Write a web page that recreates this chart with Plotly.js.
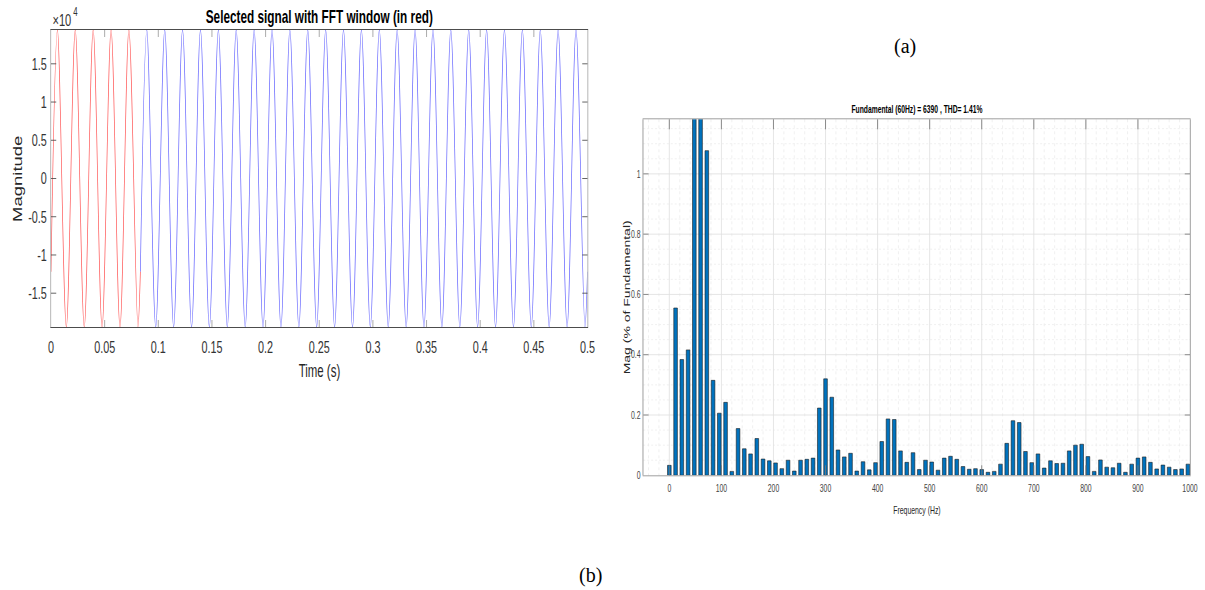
<!DOCTYPE html>
<html><head><meta charset="utf-8">
<script src="https://cdn.plot.ly/plotly-3.0.1.min.js"></script>
<style>
html,body{margin:0;padding:0;background:#fff;width:1205px;height:590px;overflow:hidden;}
#wrap{position:absolute;left:0;top:0;width:1840px;height:590px;transform:scaleX(0.654891);transform-origin:0 0;}
#over{position:absolute;left:0;top:0;width:1205px;height:590px;pointer-events:none;}
</style></head><body>
<div id="wrap"><div id="chart" style="width:1840px;height:590px;"></div></div>
<div id="over"></div>
<script>
// Time signal: extremes (peaks/troughs), 60 Hz, amplitude ~1.942e4
const redTime = [0, 0.0060, 0.0143, 0.0226, 0.0310, 0.0393, 0.0476, 0.0560, 0.0643, 0.0726, 0.0810, 0.0833];
const redValue = [-12200, 19420, -19420, 19420, -19420, 19420, -19420, 19420, -19420, 19420, -19420, -12200];

const blueTime = [0.0833, 0.0893, 0.0976, 0.1060, 0.1143, 0.1226, 0.1310, 0.1393, 0.1476, 0.1560, 0.1643,
  0.1726, 0.1810, 0.1893, 0.1976, 0.2060, 0.2143, 0.2226, 0.2310, 0.2393, 0.2476, 0.2560, 0.2643,
  0.2726, 0.2810, 0.2893, 0.2976, 0.3060, 0.3143, 0.3226, 0.3310, 0.3393, 0.3476, 0.3560, 0.3643,
  0.3726, 0.3810, 0.3893, 0.3976, 0.4060, 0.4143, 0.4226, 0.4310, 0.4393, 0.4476, 0.4560, 0.4643,
  0.4726, 0.4810, 0.4893, 0.4976, 0.5000];
const blueValue = [-12200, 19420, -19420, 19420, -19420, 19420, -19420, 19420, -19420, 19420, -19420,
  19420, -19420, 19420, -19420, 19420, -19420, 19420, -19420, 19420, -19420, 19420, -19420,
  19420, -19420, 19420, -19420, 19420, -19420, 19420, -19420, 19420, -19420, 19420, -19420,
  19420, -19420, 19420, -19420, 19420, -19420, 19420, -19420, 19420, -19420, 19420, -19420,
  19420, -19420, 19420, -19420, -12200];

const yTickVals = [-15000, -10000, -5000, 0, 5000, 10000, 15000];
const yTickText = ['-1.5', '-1', '-0.5', '0', '0.5', '1', '1.5'];

// FFT spectrum (12 Hz resolution), % of fundamental
const freq = [0, 12, 24, 36, 48, 60, 72, 84, 96, 108, 120, 132, 144, 156, 168, 180, 192, 204, 216, 228,
  240, 252, 264, 276, 288, 300, 312, 324, 336, 348, 360, 372, 384, 396, 408, 420, 432, 444, 456, 468,
  480, 492, 504, 516, 528, 540, 552, 564, 576, 588, 600, 612, 624, 636, 648, 660, 672, 684, 696, 708,
  720, 732, 744, 756, 768, 780, 792, 804, 816, 828, 840, 852, 864, 876, 888, 900, 912, 924, 936, 948,
  960, 972, 984, 996];
const mag = [0.033, 0.555, 0.384, 0.416, 1.6, 100, 1.077, 0.315, 0.206, 0.242, 0.013, 0.155, 0.088, 0.071, 0.122, 0.054, 0.048, 0.041, 0.022, 0.050,
  0.014, 0.050, 0.053, 0.057, 0.223, 0.320, 0.259, 0.084, 0.061, 0.073, 0.014, 0.045, 0.018, 0.042, 0.112, 0.187, 0.185, 0.081, 0.043, 0.075,
  0.019, 0.050, 0.044, 0.017, 0.057, 0.063, 0.053, 0.029, 0.020, 0.022, 0.019, 0.010, 0.013, 0.037, 0.106, 0.181, 0.175, 0.079, 0.042, 0.071,
  0.024, 0.048, 0.039, 0.040, 0.081, 0.100, 0.103, 0.062, 0.013, 0.051, 0.027, 0.025, 0.040, 0.010, 0.037, 0.057, 0.061, 0.043, 0.021, 0.034,
  0.027, 0.019, 0.021, 0.037];

const F = "'Liberation Sans', Arial, Helvetica, sans-serif";
const SERIF = "'Liberation Serif', 'Times New Roman', serif";

const traces = [
  {x: blueTime, y: blueValue, xaxis: 'x', yaxis: 'y', type: 'scatter', mode: 'lines',
   line: {color: 'rgb(105,105,255)', width: 1.1, shape: 'spline', smoothing: 1}, hoverinfo: 'skip'},
  {x: redTime, y: redValue, xaxis: 'x', yaxis: 'y', type: 'scatter', mode: 'lines',
   line: {color: 'rgb(255,90,90)', width: 1.1, shape: 'spline', smoothing: 1}, hoverinfo: 'skip'},
  {x: freq, y: mag, xaxis: 'x2', yaxis: 'y2', type: 'bar',
   marker: {color: '#0072BD', line: {color: '#1a1a1a', width: 0.7}}, hoverinfo: 'skip'}
];

const layout = {
  width: 1840, height: 590, autosize: false,
  margin: {l: 0, r: 0, t: 0, b: 0},
  paper_bgcolor: '#fff', plot_bgcolor: '#fff',
  showlegend: false, bargap: 0.42,
  font: {family: F, color: '#262626'},
  xaxis: {domain: [0.04232, 0.48755], range: [0, 0.5], tick0: 0, dtick: 0.05, anchor: 'y',
    ticks: 'inside', ticklen: 7, tickcolor: '#999', tickwidth: 1,
    showline: true, linecolor: '#262626', linewidth: 1, mirror: 'ticks',
    showgrid: false, zeroline: false, ticklabelstandoff: 5,
    tickfont: {family: F, size: 16.5, color: '#333'}},
  yaxis: {domain: [0.44576, 0.94915], range: [-19420, 19420], anchor: 'x',
    tickmode: 'array', tickvals: yTickVals, ticktext: yTickText,
    ticks: 'inside', ticklen: 8, tickcolor: '#444', tickwidth: 1,
    showline: true, linecolor: '#a8a8a8', linewidth: 1, mirror: 'ticks',
    showgrid: false, zeroline: false, ticklabelstandoff: 2,
    tickfont: {family: F, size: 16.5, color: '#333'}},
  xaxis2: {domain: [0.53386, 0.98755], range: [-50, 1000], tick0: 0, dtick: 100, anchor: 'y2',
    ticks: 'inside', ticklen: 10, tickcolor: '#777', tickwidth: 1,
    showline: true, linecolor: '#8a8a8a', linewidth: 1, mirror: 'ticks',
    showgrid: true, gridcolor: '#e0e0e0', gridwidth: 1, zeroline: false,
    minor: {dtick: 20, showgrid: true, gridcolor: '#ededed', griddash: 'dot', gridwidth: 1},
    ticklabelstandoff: 3,
    tickfont: {family: F, size: 10.5, color: '#444'}},
  yaxis2: {domain: [0.19441, 0.79780], range: [0, 1.181], tick0: 0, dtick: 0.2, anchor: 'x2',
    ticks: 'inside', ticklen: 8, tickcolor: '#777', tickwidth: 1,
    showline: true, linecolor: '#8a8a8a', linewidth: 1, mirror: 'ticks',
    showgrid: true, gridcolor: '#e0e0e0', gridwidth: 1, zeroline: false,
    minor: {dtick: 0.05, showgrid: true, gridcolor: '#ededed', griddash: 'dot', gridwidth: 1},
    ticklabelstandoff: 1,
    tickfont: {family: F, size: 10.5, color: '#444'}},
  annotations: [
    {text: 'Selected signal with FFT window (in red)', xref: 'paper', yref: 'paper',
     x: 0.2647, y: 0.97203, xanchor: 'center', yanchor: 'middle', showarrow: false,
     font: {family: F, size: 18, color: '#000', weight: 'bold'}},
    {text: '×10', xref: 'paper', yref: 'paper',
     x: 0.04232, y: 0.9661, xanchor: 'left', yanchor: 'middle', showarrow: false,
     font: {family: F, size: 17, color: '#333'}},
    {text: '4', xref: 'paper', yref: 'paper',
     x: 0.0598, y: 0.9800, xanchor: 'left', yanchor: 'middle', showarrow: false,
     font: {family: F, size: 12, color: '#333'}},
    {text: 'Magnitude', xref: 'paper', yref: 'paper', textangle: -90,
     x: 0.01494, y: 0.69746, xanchor: 'center', yanchor: 'middle', showarrow: false,
     font: {family: F, size: 18.5, color: '#262626'}},
    {text: 'Time (s)', xref: 'paper', yref: 'paper',
     x: 0.26515, y: 0.37034, xanchor: 'center', yanchor: 'middle', showarrow: false,
     font: {family: F, size: 17.5, color: '#262626'}},
    {text: 'Fundamental (60Hz) = 6390 , THD= 1.41%', xref: 'paper', yref: 'paper',
     x: 0.76100, y: 0.81356, xanchor: 'center', yanchor: 'middle', showarrow: false,
     font: {family: F, size: 10.3, color: '#000', weight: 'bold'}},
    {text: 'Frequency (Hz)', xref: 'paper', yref: 'paper',
     x: 0.76100, y: 0.13559, xanchor: 'center', yanchor: 'middle', showarrow: false,
     font: {family: F, size: 10.5, color: '#262626'}},
    {text: 'Mag (% of Fundamental)', xref: 'paper', yref: 'paper', textangle: -90,
     x: 0.51950, y: 0.49576, xanchor: 'center', yanchor: 'middle', showarrow: false,
     font: {family: F, size: 14, color: '#262626'}}
  ]
};

Plotly.newPlot('chart', traces, layout, {displayModeBar: false, staticPlot: true});

// Uncompressed overlay for the panel captions
const overLayout = {
  width: 1205, height: 590, autosize: false,
  margin: {l: 0, r: 0, t: 0, b: 0},
  paper_bgcolor: 'rgba(0,0,0,0)', plot_bgcolor: 'rgba(0,0,0,0)',
  xaxis: {visible: false}, yaxis: {visible: false},
  annotations: [
    {text: '(a)', xref: 'paper', yref: 'paper', x: 905 / 1205, y: 1 - 47 / 590,
     xanchor: 'center', yanchor: 'middle', showarrow: false,
     font: {family: SERIF, size: 20, color: '#000'}},
    {text: '(b)', xref: 'paper', yref: 'paper', x: 590 / 1205, y: 1 - 575 / 590,
     xanchor: 'center', yanchor: 'middle', showarrow: false,
     font: {family: SERIF, size: 20, color: '#000'}}
  ]
};
Plotly.newPlot('over', [], overLayout, {displayModeBar: false, staticPlot: true});
</script></body></html>
